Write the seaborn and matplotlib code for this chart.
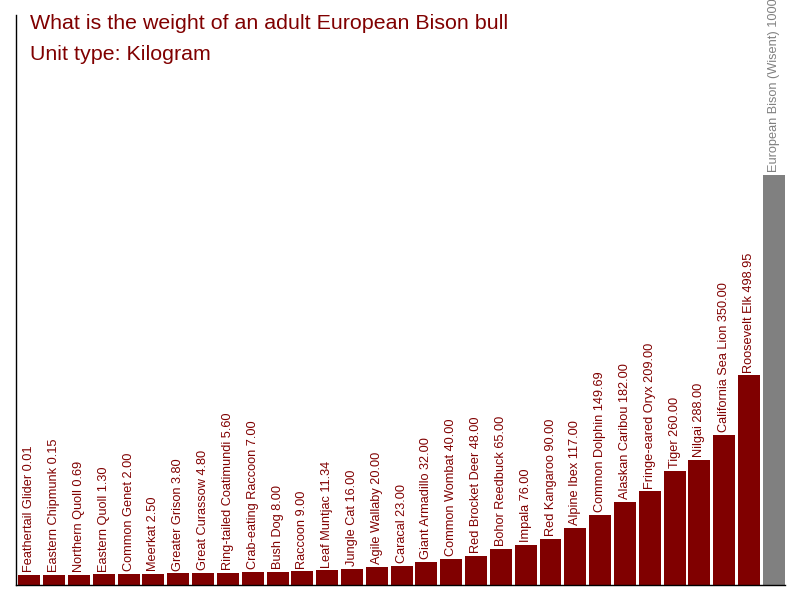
import matplotlib
matplotlib.use("Agg")
import matplotlib.pyplot as plt
import seaborn as sns
import pandas as pd
import numpy as np

names = ["Feathertail Glider", "Eastern Chipmunk", "Northern Quoll", "Eastern Quoll",
         "Common Genet", "Meerkat", "Greater Grison", "Great Curassow",
         "Ring-tailed Coatimundi", "Crab-eating Raccoon", "Bush Dog", "Raccoon",
         "Leaf Muntjac", "Jungle Cat", "Agile Wallaby", "Caracal", "Giant Armadillo",
         "Common Wombat", "Red Brocket Deer", "Bohor Reedbuck", "Impala", "Red Kangaroo",
         "Alpine Ibex", "Common Dolphin", "Alaskan Caribou", "Fringe-eared Oryx", "Tiger",
         "Nilgai", "California Sea Lion", "Roosevelt Elk", "European Bison (Wisent)"]
weights = [0.01, 0.15, 0.69, 1.30, 2.00, 2.50, 3.80, 4.80, 5.60, 7.00, 8.00, 9.00,
           11.34, 16.00, 20.00, 23.00, 32.00, 40.00, 48.00, 65.00, 76.00, 90.00,
           117.00, 149.69, 182.00, 209.00, 260.00, 288.00, 350.00, 498.95, 1000.00]
highlight = "European Bison (Wisent)"
title_lines = ["What is the weight of an adult European Bison bull", "Unit type: Kilogram"]

MAROON = "#800000"
GREY = "#808080"
BASE = 25.0  # bars start slightly below zero so tiny values remain visible

sns.set_style("white")
plt.rcParams["font.family"] = ["Liberation Sans", "DejaVu Sans"]

df = pd.DataFrame({"name": names, "weight": weights})
df["height"] = df["weight"] + BASE
colors = {n: (GREY if n == highlight else MAROON) for n in names}

fig = plt.figure(figsize=(8, 6), dpi=100)
ax = fig.add_axes([15.5 / 800, 15 / 600, (785 - 15.5) / 800, 570 / 600])

sns.barplot(data=df, x="name", y="height", hue="name", palette=colors, legend=False,
            saturation=1, width=0.885, errorbar=None, bottom=-BASE, linewidth=0, ax=ax)

for i, (n, w) in enumerate(zip(names, weights)):
    c = GREY if n == highlight else MAROON
    label = f"{n} {w:.0f}" if n == highlight else f"{n} {w:.2f}"
    ax.annotate(label, xy=(i, w), xytext=(0, 2), textcoords="offset points",
                rotation=90, ha="center", va="bottom", fontsize=9.2, color=c,
                annotation_clip=False)

ax.set_xlim(-0.56, len(names) - 0.55)
ax.set_ylim(-BASE, 1400)
ax.set_xticks([])
ax.set_yticks([])
ax.set_xlabel("")
ax.set_ylabel("")
for s in ["top", "right"]:
    ax.spines[s].set_visible(False)
for s in ["left", "bottom"]:
    ax.spines[s].set_color("black")
    ax.spines[s].set_linewidth(1)

fig.text(30 / 800, 1 - 29 / 600, title_lines[0], fontsize=15.4, color=MAROON, va="baseline")
fig.text(30 / 800, 1 - 60 / 600, title_lines[1], fontsize=15.4, color=MAROON, va="baseline")

fig.savefig("out.png", dpi=100)
